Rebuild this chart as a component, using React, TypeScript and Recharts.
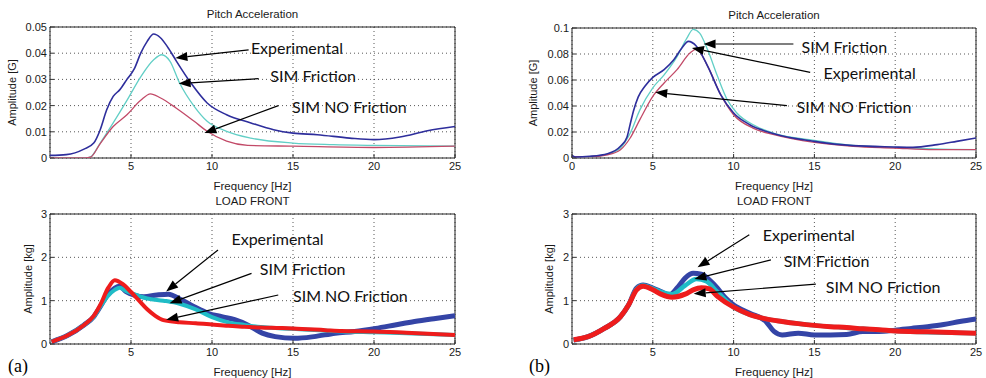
import { CartesianGrid, Label, Line, LineChart, ReferenceArea, ReferenceDot, ReferenceLine, XAxis, YAxis } from "recharts";

type Pair = [number, number];

// (a) pitch acceleration, [Hz, G]
const pitchAExp: Pair[] = [
  [0, 0.001], [1, 0.0013], [2.1, 0.0034], [2.7, 0.0057], [3.1, 0.0108], [3.5, 0.0184], [3.9, 0.0235],
  [4.3, 0.026], [4.75, 0.03], [5.2, 0.034], [5.6, 0.04], [6.0, 0.0445], [6.4, 0.0473], [6.8, 0.046],
  [7.3, 0.042], [7.8, 0.037], [8.7, 0.0286], [9.7, 0.021], [10.9, 0.0165], [12.4, 0.0134], [13.8, 0.0108],
  [15, 0.0095], [16.5, 0.0089], [18.5, 0.0076], [20, 0.007], [21.6, 0.008], [23.3, 0.0104], [25, 0.012],
];
const pitchASim: Pair[] = [
  [0, 0], [2.2, 0], [2.5, 0.0004], [3.1, 0.0057], [3.9, 0.0134], [4.75, 0.022], [5.6, 0.031], [6.4, 0.0375],
  [6.9, 0.0394], [7.4, 0.037], [8.0, 0.0286], [8.9, 0.0197], [9.7, 0.014], [10.9, 0.0102], [12.4, 0.0076],
  [15, 0.0057], [17.5, 0.0051], [20, 0.0048], [25, 0.0045],
];
const pitchANoF: Pair[] = [
  [0, 0], [2.2, 0], [2.5, 0.0003], [3.1, 0.0055], [3.9, 0.012], [4.75, 0.0165], [5.6, 0.022], [6.2, 0.0245],
  [6.8, 0.023], [7.8, 0.019], [8.9, 0.014], [9.7, 0.0102], [10.9, 0.0064], [12.2, 0.0048], [15, 0.0045],
  [20, 0.004], [25, 0.0045],
];

// (b) pitch acceleration
const pitchBExp: Pair[] = [
  [0, 0.002], [0.2, 0.0008], [1.1, 0.0013], [2.2, 0.0033], [3.0, 0.009], [3.4, 0.016], [3.6, 0.026],
  [3.8, 0.036], [4.1, 0.047], [4.5, 0.055], [5.0, 0.062], [5.7, 0.068], [6.3, 0.0756], [6.8, 0.0846],
  [7.2, 0.0897], [7.7, 0.086], [8.4, 0.0705], [9.2, 0.0487], [10, 0.0346], [11, 0.0256], [12.5, 0.0187],
  [15, 0.0128], [17.4, 0.0095], [19.9, 0.0085], [21.1, 0.0082], [22.6, 0.0103], [23.8, 0.0128], [25, 0.0154],
];
const pitchBSim: Pair[] = [
  [0, 0.001], [1.1, 0.001], [2.2, 0.003], [3.0, 0.0077], [3.6, 0.019], [4.2, 0.037], [5.0, 0.054], [5.7, 0.064],
  [6.5, 0.078], [7.1, 0.092], [7.5, 0.099], [7.9, 0.096], [8.4, 0.083], [9.0, 0.063], [9.6, 0.045],
  [10.2, 0.0346], [11.4, 0.0244], [12.5, 0.019], [15, 0.0136], [17.4, 0.0097], [19.9, 0.0082], [22.4, 0.007],
  [25, 0.0064],
];
const pitchBNoF: Pair[] = [
  [0, 0.001], [1.1, 0.001], [2.2, 0.0025], [3.0, 0.0064], [3.6, 0.0154], [4.2, 0.0295], [5.0, 0.0474],
  [5.7, 0.0577], [6.5, 0.068], [7.3, 0.0808], [7.7, 0.0838], [8.4, 0.0705], [9.2, 0.0487], [10, 0.0333],
  [11.2, 0.023], [12.5, 0.018], [15, 0.012], [17.4, 0.009], [19.9, 0.0077], [22.4, 0.0064], [25, 0.0064],
];

// (a) load front, [Hz, kg]
const loadAExp: Pair[] = [
  [0.1, 0.05], [1.1, 0.2], [2.1, 0.44], [2.7, 0.63], [3.1, 0.86], [3.55, 1.13], [4.0, 1.29], [4.3, 1.33],
  [4.7, 1.21], [5.2, 1.13], [5.8, 1.09], [6.6, 1.13], [7.3, 1.15], [8.1, 1.02], [8.9, 0.86], [9.75, 0.71],
  [10.6, 0.63], [11.4, 0.56], [12.2, 0.44], [13.1, 0.25], [13.9, 0.17], [15.1, 0.13], [16.3, 0.17],
  [17.6, 0.25], [18.8, 0.29], [20.1, 0.36], [21.3, 0.44], [22.5, 0.52], [23.8, 0.59], [25, 0.65],
];
const loadASim: Pair[] = [
  [0.1, 0.05], [1.1, 0.2], [2.1, 0.44], [2.7, 0.63], [3.1, 0.86], [3.55, 1.1], [4.0, 1.25], [4.3, 1.3],
  [4.7, 1.22], [5.2, 1.15], [6.0, 1.05], [7.0, 1.0], [8.0, 0.93], [9.0, 0.8], [10, 0.62], [11, 0.5],
  [12, 0.44], [13, 0.39], [15, 0.35], [18, 0.29], [20, 0.27], [22, 0.25], [25, 0.21],
];
const loadANoF: Pair[] = [
  [0.1, 0.05], [1.1, 0.2], [2.1, 0.44], [2.7, 0.65], [3.1, 0.9], [3.6, 1.3], [4.0, 1.47], [4.5, 1.38],
  [5.0, 1.2], [5.5, 1.0], [6.0, 0.8], [6.5, 0.65], [7.0, 0.55], [8, 0.5], [9, 0.48], [10, 0.45], [11, 0.42],
  [12, 0.4], [13, 0.38], [14, 0.37], [15, 0.36], [17, 0.32], [18, 0.3], [20, 0.29], [22, 0.26], [25, 0.21],
];

// (b) load front
const loadBExp: Pair[] = [
  [0.1, 0.09], [1, 0.17], [2, 0.36], [3, 0.63], [3.5, 0.9], [4.0, 1.29], [4.4, 1.36], [5.0, 1.29],
  [5.5, 1.21], [6.0, 1.13], [6.5, 1.29], [7.0, 1.52], [7.5, 1.63], [8.0, 1.61], [8.5, 1.48], [9.0, 1.29],
  [9.5, 1.06], [10, 0.9], [11, 0.71], [12, 0.52], [12.5, 0.29], [13, 0.21], [14, 0.25], [15, 0.21],
  [16, 0.21], [17, 0.22], [18, 0.29], [19, 0.29], [20, 0.32], [21, 0.36], [22, 0.4], [23, 0.45],
  [24, 0.52], [25, 0.58],
];
const loadBSim: Pair[] = [
  [0.1, 0.09], [1, 0.17], [2, 0.36], [3, 0.63], [3.5, 0.9], [4.0, 1.27], [4.4, 1.35], [5.0, 1.28],
  [5.5, 1.2], [6.2, 1.15], [7.0, 1.35], [7.7, 1.5], [8.3, 1.45], [9.0, 1.2], [10, 0.85], [11, 0.68],
  [12, 0.58], [13, 0.52], [15, 0.43], [18, 0.35], [20, 0.3], [25, 0.25],
];
const loadBNoF: Pair[] = [
  [0.1, 0.1], [1, 0.17], [2, 0.36], [3, 0.63], [3.5, 0.9], [4.0, 1.25], [4.4, 1.33], [5.0, 1.25],
  [5.5, 1.15], [6.2, 1.08], [7.0, 1.15], [7.5, 1.25], [8.0, 1.3], [8.5, 1.27], [9.0, 1.1], [10, 0.85],
  [11, 0.68], [12, 0.58], [13, 0.52], [14, 0.47], [15, 0.43], [16, 0.4], [17, 0.38], [18, 0.35],
  [19, 0.33], [20, 0.3], [22, 0.28], [25, 0.25],
];

const xTicksLeft = [5, 10, 15, 20, 25];
const xTicksRight = [0, 5, 10, 15, 20, 25];
const yTicksPitchA = [0, 0.01, 0.02, 0.03, 0.04, 0.05];
const yTicksPitchB = [0, 0.02, 0.04, 0.06, 0.08, 0.1];
const yTicksLoad = [0, 1, 2, 3];

const names = ["Experimental", "SIM Friction", "SIM NO Friction"];

// annotations: text position [Hz, value], arrow tail and tip
type Note = { text: string; at: Pair; tail: Pair; tip: Pair };
const notesPitchA: Note[] = [
  { text: names[0], at: [12.4, 0.0422], tail: [12.26, 0.0413], tip: [7.74, 0.0382] },
  { text: names[1], at: [13.6, 0.0314], tail: [12.88, 0.0303], tip: [7.94, 0.0284] },
  { text: names[2], at: [14.94, 0.0197], tail: [14.1, 0.02], tip: [9.53, 0.0095] },
];
const notesPitchB: Note[] = [
  { text: names[1], at: [14.2, 0.0859], tail: [13.7, 0.0877], tip: [8.14, 0.0877] },
  { text: names[0], at: [15.57, 0.0654], tail: [14.74, 0.0659], tip: [7.42, 0.0846] },
  { text: names[2], at: [13.9, 0.0397], tail: [13.3, 0.0403], tip: [5.15, 0.0505] },
];
const notesLoadA: Note[] = [
  { text: names[0], at: [11.2, 2.44], tail: [10.37, 2.17], tip: [7.17, 1.21] },
  { text: names[1], at: [12.95, 1.75], tail: [12.44, 1.63], tip: [7.38, 0.94] },
  { text: names[2], at: [15.0, 1.13], tail: [14.09, 1.13], tip: [7.17, 0.56] },
];
const notesLoadB: Note[] = [
  { text: names[0], at: [11.8, 2.52], tail: [10.97, 2.52], tip: [7.77, 1.77] },
  { text: names[1], at: [13.1, 1.92], tail: [12.31, 1.94], tip: [7.57, 1.5] },
  { text: names[2], at: [15.7, 1.33], tail: [15.09, 1.38], tip: [7.53, 1.16] },
];

const AXIS_FONT = "'Liberation Sans', Arial, sans-serif";
const NOTE_FONT = "Lato, 'Open Sans', sans-serif";
const INK = "#1a1a1a";

const pts = (a: Pair[]) => a.map(([f, v]) => ({ f, v }));

function Arrow(props: any) {
  const { x1, y1, x2, y2 } = props;
  const ang = Math.atan2(y2 - y1, x2 - x1);
  const len = 12;
  const half = 4.5;
  const bx = x2 - len * Math.cos(ang);
  const by = y2 - len * Math.sin(ang);
  const px = -Math.sin(ang) * half;
  const py = Math.cos(ang) * half;
  return (
    <g>
      <line x1={x1} y1={y1} x2={bx} y2={by} stroke="#000" strokeWidth={1.2} />
      <polygon points={`${x2},${y2} ${bx + px},${by + py} ${bx - px},${by - py}`} fill="#000" />
    </g>
  );
}

type Series = { data: Pair[]; color: string; width: number };

type PanelProps = {
  left: number;
  top: number;
  width: number;
  height: number;
  plot: [number, number, number, number];
  yMax: number;
  yTicks: number[];
  xTicks: number[];
  title: string;
  yLabel: string;
  yLabelX: number;
  series: Series[];
  notes: Note[];
};

function Panel(p: PanelProps) {
  const [px0, py0, px1, py1] = p.plot;
  const xAxisH = 34;
  const margin = {
    top: py0 - p.top,
    right: p.left + p.width - px1,
    bottom: p.top + p.height - py1 - xAxisH,
    left: 0,
  };
  const tickStyle = { fontSize: 11, fill: INK, fontFamily: AXIS_FONT };
  return (
    <div style={{ position: "absolute", left: p.left, top: p.top }}>
      <div
        style={{
          position: "absolute",
          left: px0 - p.left,
          width: px1 - px0,
          top: margin.top - 20,
          textAlign: "center",
          fontFamily: AXIS_FONT,
          fontSize: 11.5,
          color: INK,
          lineHeight: "14px",
        }}
      >
        {p.title}
      </div>
      <LineChart width={p.width} height={p.height} margin={margin}>
        <CartesianGrid stroke="#444" strokeDasharray="1 3" strokeWidth={0.9} />
        <XAxis
          dataKey="f"
          type="number"
          domain={[0, 25]}
          ticks={p.xTicks}
          allowDataOverflow
          height={xAxisH}
          axisLine={false}
          tickLine={{ stroke: "#333" }}
          tickSize={-4}
          tickMargin={8}
          tick={tickStyle}
        >
          <Label value="Frequency [Hz]" position="insideBottom" offset={2} style={{ fontSize: 11.5, fill: INK, fontFamily: AXIS_FONT }} />
        </XAxis>
        <YAxis
          type="number"
          domain={[0, p.yMax]}
          ticks={p.yTicks}
          allowDataOverflow
          width={px0 - p.left}
          axisLine={false}
          tickLine={{ stroke: "#333" }}
          tickSize={-4}
          tickMargin={7}
          tick={tickStyle}
        >
          <Label
            value={p.yLabel}
            angle={-90}
            position="insideLeft"
            offset={p.yLabelX}
            style={{ fontSize: 11, fill: INK, fontFamily: AXIS_FONT, textAnchor: "middle" }}
          />
        </YAxis>
        {p.series.map((s, i) => (
          <Line
            key={i}
            type="monotone"
            data={pts(s.data)}
            dataKey="v"
            stroke={s.color}
            strokeWidth={s.width}
            dot={false}
            activeDot={false}
            isAnimationActive={false}
            strokeLinejoin="round"
          />
        ))}
        <ReferenceArea x1={0} x2={25} y1={0} y2={p.yMax} fill="none" stroke="#222" strokeWidth={1} ifOverflow="visible" />
        {p.notes.map((n, i) => (
          <ReferenceLine
            key={`a${i}`}
            segment={[
              { x: n.tail[0], y: n.tail[1] },
              { x: n.tip[0], y: n.tip[1] },
            ]}
            ifOverflow="visible"
            shape={Arrow}
          />
        ))}
        {p.notes.map((n, i) => (
          <ReferenceDot
            key={`t${i}`}
            x={n.at[0]}
            y={n.at[1]}
            ifOverflow="visible"
            shape={(d: any) => (
              <text x={d.cx} y={d.cy} dominantBaseline="central" fontFamily={NOTE_FONT} fontSize={16} fill="#111">
                {n.text}
              </text>
            )}
          />
        ))}
      </LineChart>
    </div>
  );
}

const BLUE_A = "#2e2e9c";
const CYAN_A = "#62cfc6";
const RED_A = "#c24a68";
const BLUE_B = "#3444a6";
const CYAN_B = "#1fbcc6";
const RED_B = "#ee1c1c";

export default function App() {
  return (
    <div style={{ position: "absolute", left: 0, top: 0, width: 986, height: 378, background: "#fff", overflow: "hidden" }}>
      <Panel
        left={0}
        top={0}
        width={490}
        height={192}
        plot={[50, 27, 455, 158]}
        yMax={0.05}
        yTicks={yTicksPitchA}
        xTicks={xTicksLeft}
        title="Pitch Acceleration"
        yLabel="Amplitude [G]"
        yLabelX={12}
        series={[
          { data: pitchAExp, color: BLUE_A, width: 1.6 },
          { data: pitchASim, color: CYAN_A, width: 1.3 },
          { data: pitchANoF, color: RED_A, width: 1.3 },
        ]}
        notes={notesPitchA}
      />
      <Panel
        left={490}
        top={0}
        width={496}
        height={192}
        plot={[572, 28, 976, 158]}
        yMax={0.1}
        yTicks={yTicksPitchB}
        xTicks={xTicksRight}
        title="Pitch Acceleration"
        yLabel="Amplitude [G]"
        yLabelX={43}
        series={[
          { data: pitchBSim, color: CYAN_A, width: 1.3 },
          { data: pitchBNoF, color: RED_A, width: 1.3 },
          { data: pitchBExp, color: BLUE_A, width: 1.6 },
        ]}
        notes={notesPitchB}
      />
      <Panel
        left={0}
        top={188}
        width={490}
        height={190}
        plot={[50, 214, 455, 344]}
        yMax={3}
        yTicks={yTicksLoad}
        xTicks={xTicksLeft}
        title="LOAD FRONT"
        yLabel="Amplitude [kg]"
        yLabelX={28}
        series={[
          { data: loadAExp, color: BLUE_B, width: 5 },
          { data: loadASim, color: CYAN_B, width: 4 },
          { data: loadANoF, color: RED_B, width: 4 },
        ]}
        notes={notesLoadA}
      />
      <Panel
        left={490}
        top={188}
        width={496}
        height={190}
        plot={[572, 214, 976, 344]}
        yMax={3}
        yTicks={yTicksLoad}
        xTicks={xTicksLeft}
        title="LOAD FRONT"
        yLabel="Amplitude [kg]"
        yLabelX={59}
        series={[
          { data: loadBExp, color: BLUE_B, width: 5 },
          { data: loadBSim, color: CYAN_B, width: 4.5 },
          { data: loadBNoF, color: RED_B, width: 5 },
        ]}
        notes={notesLoadB}
      />
      <div style={{ position: "absolute", left: 8, top: 356, fontFamily: "'Liberation Serif', serif", fontSize: 18 }}>(a)</div>
      <div style={{ position: "absolute", left: 529, top: 356, fontFamily: "'Liberation Serif', serif", fontSize: 18 }}>(b)</div>
    </div>
  );
}
